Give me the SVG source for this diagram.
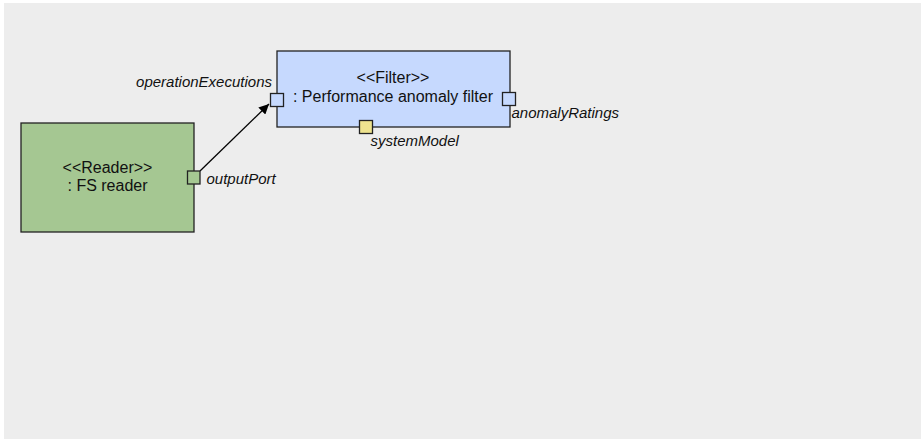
<svg xmlns="http://www.w3.org/2000/svg" width="921" height="440" viewBox="0 0 921 440">
<defs>
<style>
.node{stroke:#222;stroke-width:1.3}
.port{stroke:#222;stroke-width:1.3}
.t{font-family:"Liberation Sans",Arial,sans-serif;font-size:16px;fill:#111;text-anchor:middle}
.lbl{font-family:"Liberation Sans",Arial,sans-serif;font-size:15px;font-style:italic;fill:#111}
.edge{stroke:#000;stroke-width:1.3;fill:none}
</style>
<marker id="arr" viewBox="0 0 10 10" refX="10" refY="5" markerWidth="10" markerHeight="10" markerUnits="userSpaceOnUse" orient="auto">
<path d="M0,0 L10,5 L0,10 z" fill="#000"/>
</marker>
</defs>
<rect x="4" y="3" width="917" height="436" fill="#ededed"/>
<g id="connectors">
<line class="edge" x1="200" y1="171" x2="269" y2="104" marker-end="url(#arr)"/>
</g>
<g id="reader">
<rect class="node" x="21" y="123" width="173" height="109" fill="#a5c792"/>
<text class="t" x="107.5" y="173">&lt;&lt;Reader&gt;&gt;</text>
<text class="t" x="107.5" y="191">: FS reader</text>
<rect class="port" x="187.5" y="171" width="12.5" height="13" fill="#a5c792"/>
<text class="lbl" x="206.5" y="184">outputPort</text>
</g>
<g id="filter">
<rect class="node" x="277" y="51" width="233" height="76" fill="#c6d9fe"/>
<text class="t" x="393" y="83">&lt;&lt;Filter&gt;&gt;</text>
<text class="t" x="393" y="102">: Performance anomaly filter</text>
<rect class="port" x="270.5" y="93.5" width="13" height="13" fill="#c6d9fe"/>
<text class="lbl" x="272" y="87" text-anchor="end">operationExecutions</text>
<rect class="port" x="502.5" y="92.5" width="13" height="13" fill="#c6d9fe"/>
<text class="lbl" x="511.5" y="118">anomalyRatings</text>
<rect class="port" x="359.5" y="120.5" width="13" height="13" fill="#eee38f"/>
<text class="lbl" x="370.5" y="146">systemModel</text>
</g>
</svg>
